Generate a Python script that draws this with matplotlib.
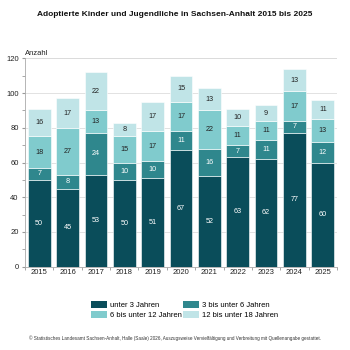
import matplotlib
matplotlib.use("Agg")
import matplotlib.pyplot as plt
import numpy as np
from matplotlib.patches import Patch

plt.rcParams['font.family'] = ['Liberation Sans', 'DejaVu Sans']

years = ['2015', '2016', '2017', '2018', '2019', '2020', '2021', '2022', '2023', '2024', '2025']
unter3 = [50, 45, 53, 50, 51, 67, 52, 63, 62, 77, 60]
u3bis6 = [7, 8, 24, 10, 10, 11, 16, 7, 11, 7, 12]
u6bis12 = [18, 27, 13, 15, 17, 17, 22, 11, 11, 17, 13]
u12bis18 = [16, 17, 22, 8, 17, 15, 13, 10, 9, 13, 11]
series_names = ['unter 3 Jahren', '3 bis unter 6 Jahren', '6 bis unter 12 Jahren', '12 bis unter 18 Jahren']

colors = ['#0a4d5a', '#2f878d', '#80cbcd', '#c0e4e7']
text_colors = ['white', 'white', '#222222', '#222222']

fig = plt.figure(figsize=(3.5, 3.5), dpi=100)
ax = fig.add_axes([25/350, 1 - 266.7/350, (337-25)/350, (266.7-58.3)/350])

x = np.arange(len(years))
bottom = np.zeros(len(years))
handles = []
for vals, c, tc, name in zip([unter3, u3bis6, u6bis12, u12bis18], colors, text_colors, series_names):
    vals = np.array(vals)
    ax.bar(x, vals, 0.8, bottom=bottom, color=c, edgecolor='white', linewidth=0.4, zorder=3)
    for xi, b, v in zip(x, bottom, vals):
        ax.text(xi, b + v / 2, str(v), ha='center', va='center', fontsize=5.2, color=tc, zorder=4)
    bottom += vals
    handles.append(Patch(facecolor=c, edgecolor='none', label=name))

ax.set_xlim(-0.5, len(years) - 0.5)
ax.set_ylim(0, 120)
ax.set_yticks(np.arange(0, 121, 20))
ax.set_yticks(np.arange(0, 121, 10), minor=True)
ax.set_xticks(x)
ax.set_xticklabels(years)
ax.set_xticks(np.arange(-0.5, len(years), 1), minor=True)
ax.tick_params(axis='both', which='major', labelsize=5.5, length=2.5, color='#999999', pad=2, labelcolor='#222222')
ax.tick_params(axis='x', which='major', length=0)
ax.tick_params(axis='both', which='minor', length=2, color='#999999')
ax.grid(axis='y', color='#dddddd', linewidth=0.6, zorder=0)
for s in ['top', 'right']:
    ax.spines[s].set_visible(False)
ax.spines['left'].set_color('#aaaaaa')
ax.spines['left'].set_linewidth(0.6)
ax.spines['bottom'].set_color('#aaaaaa')
ax.spines['bottom'].set_linewidth(0.6)
ax.axhline(120, color='#cccccc', linewidth=1.2, zorder=1)

ax.text(0.0, 1.005, 'Anzahl', transform=ax.transAxes, fontsize=5.5, ha='left', va='bottom', color='#222222')

fig.text(0.5, 1 - 15/350, 'Adoptierte Kinder und Jugendliche in Sachsen-Anhalt 2015 bis 2025',
         ha='center', va='center', fontsize=6, fontweight='bold', color='#111111')

ordered = [handles[0], handles[2], handles[1], handles[3]]
fig.legend(handles=ordered, loc='center', bbox_to_anchor=(0.528, 1 - 310/350), ncol=2,
           frameon=False, fontsize=5.5, handlelength=2.1, handleheight=1.0,
           columnspacing=0.15, handletextpad=0.4, labelspacing=0.2)

fig.text(0.5, 1 - 338/350,
         '© Statistisches Landesamt Sachsen-Anhalt, Halle (Saale) 2026, Auszugsweise Vervielfältigung und Verbreitung mit Quellenangabe gestattet.',
         ha='center', va='center', fontsize=3.3, color='#333333')

fig.savefig('out.png', dpi=100)
